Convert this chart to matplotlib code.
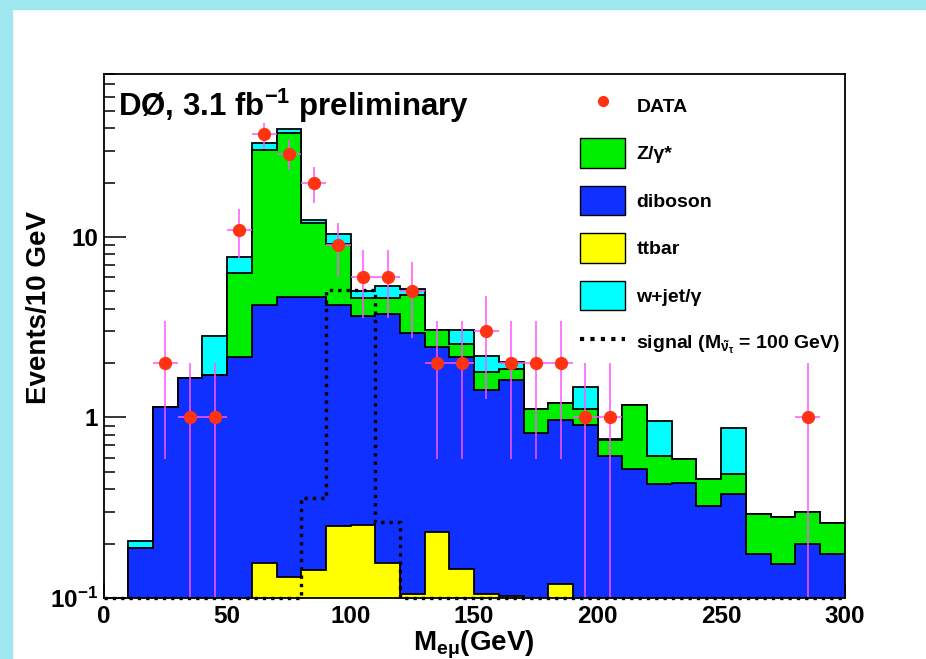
import numpy as np
import matplotlib
matplotlib.use('Agg')
import matplotlib.pyplot as plt
from matplotlib.patches import Patch, Rectangle
from matplotlib.lines import Line2D
from matplotlib.ticker import MultipleLocator, LogLocator, NullFormatter, FixedLocator, FixedFormatter

plt.rcParams['font.family'] = ['Liberation Sans', 'DejaVu Sans']
plt.rcParams['font.weight'] = 'bold'
plt.rcParams['axes.labelweight'] = 'bold'
plt.rcParams['mathtext.fontset'] = 'custom'
plt.rcParams['mathtext.rm'] = 'Liberation Sans:bold'
plt.rcParams['mathtext.bf'] = 'Liberation Sans:bold'
plt.rcParams['mathtext.it'] = 'Liberation Sans:bold'
plt.rcParams['mathtext.default'] = 'bf'

# 10 GeV bins, 0 - 300 GeV
bin_edges = np.arange(0, 310, 10)

# expected events per bin, stacked bottom -> top
ttbar = [0, 0, 0, 0, 0, 0, 0.156, 0.130, 0.143, 0.249,
         0.253, 0.157, 0.105, 0.232, 0.145, 0.105, 0.102, 0, 0.119, 0,
         0, 0, 0, 0, 0, 0, 0, 0, 0, 0]
diboson = [0, 0.19, 1.15, 1.66, 1.71, 2.17, 4.04, 4.52, 4.51, 3.93,
           3.41, 3.59, 2.82, 2.22, 2.03, 1.32, 1.52, 0.82, 0.85, 0.91,
           0.61, 0.52, 0.43, 0.436, 0.323, 0.376, 0.175, 0.154, 0.20, 0.175]
zgamma = [0, 0, 0, 0, 0, 4.13, 26.3, 33.15, 7.35, 4.92,
          0.94, 0.85, 1.82, 0.60, 0.39, 0.36, 0.23, 0.29, 0.24, 0.20,
          0.14, 0.65, 0.18, 0.154, 0.132, 0.112, 0.116, 0.126, 0.098, 0.084]
wjet = [0, 0.018, 0, 0, 1.13, 1.40, 2.5, 1.9, 0.4, 1.3,
        0.40, 0.74, 0.40, 0, 0.49, 0.42, 0.17, 0, 0, 0.37,
        0.01, 0, 0.35, 0, 0, 0.389, 0, 0, 0, 0]

# sneutrino signal, M = 100 GeV
signal = [0, 0, 0, 0, 0, 0, 0, 0, 0.356, 5.1,
          5.1, 0.262, 0, 0, 0, 0, 0, 0, 0, 0,
          0, 0, 0, 0, 0, 0, 0, 0, 0, 0]

# observed events
data = [0, 0, 2, 1, 1, 11, 37, 29, 20, 9,
        6, 6, 5, 2, 2, 3, 2, 2, 2, 1,
        1, 0, 0, 0, 0, 0, 0, 0, 1, 0]

labels = ['DATA', 'Z/γ*', 'diboson', 'ttbar', 'w+jet/γ',
          r'signal (M$_{\tilde{\nu}_{\tau}}$ = 100 GeV)']
ytick_vals = [0.1, 1, 10]
ytick_labels = ['10$^{-1}$', '1', '10']

c_tt = '#ffff00'
c_db = '#1030ff'
c_z = '#00ee00'
c_w = '#00ffff'
c_data = '#ff3311'
c_err = '#ff55ff'
YMIN, YMAX = 0.1, 80

fig = plt.figure(figsize=(9.26, 6.59), dpi=100)
ax = fig.add_axes([0.1119, 0.0926, 0.8002, 0.7951])
ax.set_yscale('log', nonpositive='clip')

# THStack style: each cumulative sum drawn from the floor, largest first
cum = np.cumsum(np.array([ttbar, diboson, zgamma, wjet]), axis=0)
for level, col in reversed(list(zip(cum, [c_tt, c_db, c_z, c_w]))):
    ax.stairs(np.maximum(level, 1e-3), bin_edges, baseline=1e-3, fill=True,
              facecolor=col, edgecolor='black', lw=1.3, zorder=2)

sig = np.maximum(np.array(signal), YMIN)
ax.stairs(sig, bin_edges, baseline=None, color='black', lw=2.4,
          ls=(0, (1, 1.5)), zorder=4, clip_on=False)

centers = bin_edges[:-1] + 5
d = np.array(data, dtype=float)
m = d > 0
ax.errorbar(centers[m], d[m], xerr=5, yerr=np.sqrt(d[m]), fmt='none',
            ecolor=c_err, elinewidth=1.1, capsize=0, zorder=5)
ax.plot(centers[m], d[m], 'o', color=c_data, ms=8.5, zorder=6)

ax.set_xlim(0, 300)
ax.set_ylim(YMIN, YMAX)

ax.xaxis.set_major_locator(MultipleLocator(50))
ax.xaxis.set_minor_locator(MultipleLocator(10))
ax.yaxis.set_major_locator(FixedLocator(ytick_vals))
ax.yaxis.set_major_formatter(FixedFormatter(ytick_labels))
ax.yaxis.set_minor_locator(LogLocator(base=10, subs=np.arange(2, 10)))
ax.yaxis.set_minor_formatter(NullFormatter())
ax.tick_params(axis='both', which='both', direction='in', top=False, right=False,
               width=1.1, labelsize=17.5)
ax.tick_params(axis='x', which='major', length=11, pad=5)
ax.tick_params(axis='x', which='minor', length=5)
ax.tick_params(axis='y', which='major', length=16, pad=4)
ax.tick_params(axis='y', which='minor', length=8)
for s in ax.spines.values():
    s.set_linewidth(1.3)
    s.set_zorder(7)

ax.set_xlabel(r'M$_{e\mu}$(GeV)', fontsize=20, fontweight='bold')
ax.xaxis.set_label_coords(0.5, -0.058)
ax.set_ylabel('Events/10 GeV', fontsize=20, fontweight='bold')
ax.yaxis.set_label_coords(-0.07, 0.555)

ax.text(0.019, 0.92, r'DØ, 3.1 fb$^{-1}$ preliminary', transform=ax.transAxes,
        fontsize=22.5, va='baseline', ha='left', zorder=8)

handles = [Line2D([], [], ls='none', marker='o', color=c_data, ms=7),
           Patch(facecolor=c_z, edgecolor='black'),
           Patch(facecolor=c_db, edgecolor='black'),
           Patch(facecolor=c_tt, edgecolor='black'),
           Patch(facecolor=c_w, edgecolor='black'),
           Line2D([], [], color='black', lw=3, ls=(0, (1, 1.5)))]
ax.legend(handles, labels, loc='upper left', bbox_to_anchor=(0.643, 0.968),
          frameon=False, fontsize=14, handlelength=2.32, handleheight=1.95,
          labelspacing=0.93, handletextpad=0.57, borderpad=0, borderaxespad=0,
          numpoints=1)

# slide border
border = '#9fe8ef'
fig.add_artist(Rectangle((0, 1 - 9 / 659), 1, 9 / 659, transform=fig.transFigure,
                         color=border, zorder=0))
fig.add_artist(Rectangle((0, 0), 12 / 926, 1, transform=fig.transFigure,
                         color=border, zorder=0))

fig.savefig('out.png', dpi=100)
